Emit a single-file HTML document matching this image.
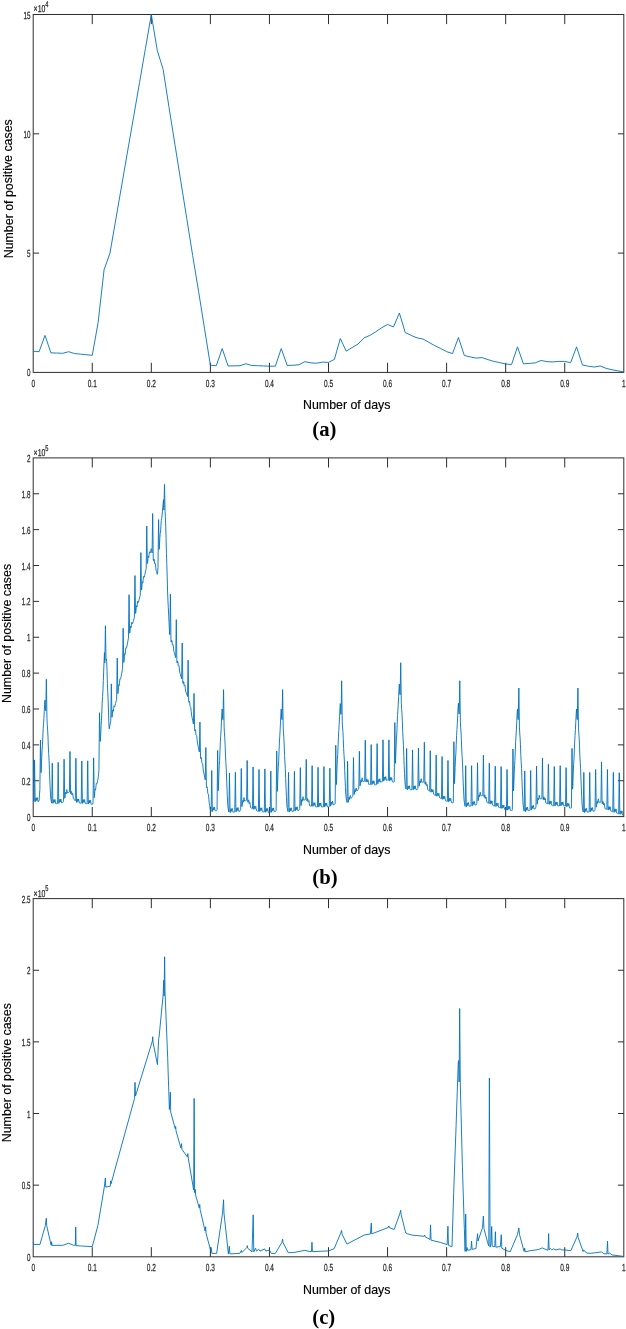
<!DOCTYPE html>
<html lang="en">
<head>
<meta charset="utf-8">
<title>Number of positive cases versus number of days</title>
<style>
html,body{margin:0;padding:0;background:#fff}
body{width:626px;height:1329px;overflow:hidden}
svg{display:block}
.tk text{text-rendering:geometricPrecision;font-family:"Liberation Sans",Arial,Helvetica,sans-serif;font-size:10.3px;fill:#262626;stroke:#262626;stroke-width:0.25px}
.lb{font-family:"Liberation Sans",Arial,Helvetica,sans-serif;font-size:12.4px;fill:#000;stroke:#000;stroke-width:0.15px}
.cap{font-family:"Liberation Serif","Times New Roman",serif;font-weight:bold;font-size:20.7px;fill:#000}
</style>
</head>
<body>
<svg width="626" height="1329" viewBox="0 0 626 1329">
<rect width="626" height="1329" fill="#fff"/>
<g>
<rect x="33.20" y="14.50" width="590.60" height="357.90" fill="none" stroke="#2e2e2e" stroke-width="1"/>
<path d="M92.26 372.40v-9.6M92.26 14.50v9.6M151.32 372.40v-9.6M151.32 14.50v9.6M210.38 372.40v-9.6M210.38 14.50v9.6M269.44 372.40v-9.6M269.44 14.50v9.6M328.50 372.40v-9.6M328.50 14.50v9.6M387.56 372.40v-9.6M387.56 14.50v9.6M446.62 372.40v-9.6M446.62 14.50v9.6M505.68 372.40v-9.6M505.68 14.50v9.6M564.74 372.40v-9.6M564.74 14.50v9.6M33.20 253.10h5.9M623.80 253.10h-5.9M33.20 133.80h5.9M623.80 133.80h-5.9" stroke="#2e2e2e" stroke-width="1" fill="none"/>
<g class="tk">
<text transform="translate(33.20 387.00) rotate(0.02) scale(0.63 1)" text-anchor="middle">0</text>
<text transform="translate(92.26 387.00) rotate(0.02) scale(0.63 1)" text-anchor="middle">0.1</text>
<text transform="translate(151.32 387.00) rotate(0.02) scale(0.63 1)" text-anchor="middle">0.2</text>
<text transform="translate(210.38 387.00) rotate(0.02) scale(0.63 1)" text-anchor="middle">0.3</text>
<text transform="translate(269.44 387.00) rotate(0.02) scale(0.63 1)" text-anchor="middle">0.4</text>
<text transform="translate(328.50 387.00) rotate(0.02) scale(0.63 1)" text-anchor="middle">0.5</text>
<text transform="translate(387.56 387.00) rotate(0.02) scale(0.63 1)" text-anchor="middle">0.6</text>
<text transform="translate(446.62 387.00) rotate(0.02) scale(0.63 1)" text-anchor="middle">0.7</text>
<text transform="translate(505.68 387.00) rotate(0.02) scale(0.63 1)" text-anchor="middle">0.8</text>
<text transform="translate(564.74 387.00) rotate(0.02) scale(0.63 1)" text-anchor="middle">0.9</text>
<text transform="translate(623.80 387.00) rotate(0.02) scale(0.63 1)" text-anchor="middle">1</text>
<text transform="translate(30.50 376.50) rotate(0.02) scale(0.61 1)" text-anchor="end">0</text>
<text transform="translate(30.50 257.20) rotate(0.02) scale(0.61 1)" text-anchor="end">5</text>
<text transform="translate(30.50 137.90) rotate(0.02) scale(0.61 1)" text-anchor="end">10</text>
<text transform="translate(30.50 18.60) rotate(0.02) scale(0.61 1)" text-anchor="end">15</text>
<text transform="translate(33.60 12.40) rotate(0.02) scale(0.69 1)"><tspan font-size="10">×10</tspan><tspan font-size="8.2" dy="-5.3">4</tspan></text>
</g>
<text class="lb" transform="translate(346.7 409.35) rotate(0.02)" text-anchor="middle">Number of days</text>
<text class="lb" transform="translate(12.50 188.75) rotate(-90.02)" text-anchor="middle">Number of positive cases</text>
<text class="cap" transform="translate(312.3 435.60) rotate(0.02)">(a)</text>
<path d="M33.20 351.21L39.11 351.71L45.01 335.42L50.92 352.83L56.82 353.07L62.73 353.31L68.64 351.71L74.54 353.55L80.45 354.15L86.35 354.74L92.26 355.32L98.17 322.29L104.07 269.80L109.98 253.10L115.88 218.98L121.79 184.86L127.70 150.74L133.60 116.86L139.51 82.74L145.41 48.62L151.32 14.50L157.23 50.29L163.13 69.38L169.04 107.55L174.94 144.54L180.85 181.52L186.76 218.50L192.66 255.49L198.57 291.28L204.47 328.26L210.38 365.24L216.29 365.72L222.19 348.54L228.10 365.96L234.00 365.84L239.91 365.72L245.82 363.81L251.72 365.48L257.63 365.72L263.53 365.96L269.44 366.20L275.35 366.20L281.25 348.54L287.16 365.48L293.06 365.24L298.97 364.76L304.88 361.66L310.78 362.86L316.69 363.21L322.59 362.14L328.50 362.38L334.41 359.40L340.31 338.52L346.22 351.16L352.12 347.59L358.03 344.01L363.94 337.92L369.84 335.42L375.75 331.84L381.65 327.78L387.56 324.44L393.47 326.95L399.37 312.99L405.28 332.55L411.18 335.42L417.09 337.92L423.00 339.00L428.90 342.34L434.81 345.68L440.71 348.54L446.62 351.64L452.53 353.55L458.43 337.56L464.34 355.46L470.24 356.89L476.15 358.08L482.06 357.61L487.96 359.63L493.87 361.42L499.77 362.62L505.68 364.05L511.59 364.53L517.49 346.87L523.40 363.81L529.30 363.45L535.21 362.86L541.12 360.47L547.02 361.66L552.93 361.90L558.83 361.42L564.74 361.42L570.65 362.62L576.55 346.87L582.46 365.00L588.36 366.20L594.27 367.03L600.18 365.96L606.08 368.34L611.99 369.78L617.89 370.85L623.80 371.92" fill="none" stroke="#0072BD" stroke-width="0.9" stroke-linejoin="round"/>
</g>
<g>
<rect x="33.20" y="457.90" width="590.60" height="358.70" fill="none" stroke="#2e2e2e" stroke-width="1"/>
<path d="M92.26 816.60v-9.6M92.26 457.90v9.6M151.32 816.60v-9.6M151.32 457.90v9.6M210.38 816.60v-9.6M210.38 457.90v9.6M269.44 816.60v-9.6M269.44 457.90v9.6M328.50 816.60v-9.6M328.50 457.90v9.6M387.56 816.60v-9.6M387.56 457.90v9.6M446.62 816.60v-9.6M446.62 457.90v9.6M505.68 816.60v-9.6M505.68 457.90v9.6M564.74 816.60v-9.6M564.74 457.90v9.6M33.20 780.73h5.9M623.80 780.73h-5.9M33.20 744.86h5.9M623.80 744.86h-5.9M33.20 708.99h5.9M623.80 708.99h-5.9M33.20 673.12h5.9M623.80 673.12h-5.9M33.20 637.25h5.9M623.80 637.25h-5.9M33.20 601.38h5.9M623.80 601.38h-5.9M33.20 565.51h5.9M623.80 565.51h-5.9M33.20 529.64h5.9M623.80 529.64h-5.9M33.20 493.77h5.9M623.80 493.77h-5.9" stroke="#2e2e2e" stroke-width="1" fill="none"/>
<g class="tk">
<text transform="translate(33.20 831.20) rotate(0.02) scale(0.63 1)" text-anchor="middle">0</text>
<text transform="translate(92.26 831.20) rotate(0.02) scale(0.63 1)" text-anchor="middle">0.1</text>
<text transform="translate(151.32 831.20) rotate(0.02) scale(0.63 1)" text-anchor="middle">0.2</text>
<text transform="translate(210.38 831.20) rotate(0.02) scale(0.63 1)" text-anchor="middle">0.3</text>
<text transform="translate(269.44 831.20) rotate(0.02) scale(0.63 1)" text-anchor="middle">0.4</text>
<text transform="translate(328.50 831.20) rotate(0.02) scale(0.63 1)" text-anchor="middle">0.5</text>
<text transform="translate(387.56 831.20) rotate(0.02) scale(0.63 1)" text-anchor="middle">0.6</text>
<text transform="translate(446.62 831.20) rotate(0.02) scale(0.63 1)" text-anchor="middle">0.7</text>
<text transform="translate(505.68 831.20) rotate(0.02) scale(0.63 1)" text-anchor="middle">0.8</text>
<text transform="translate(564.74 831.20) rotate(0.02) scale(0.63 1)" text-anchor="middle">0.9</text>
<text transform="translate(623.80 831.20) rotate(0.02) scale(0.63 1)" text-anchor="middle">1</text>
<text transform="translate(30.50 820.70) rotate(0.02) scale(0.61 1)" text-anchor="end">0</text>
<text transform="translate(30.50 784.83) rotate(0.02) scale(0.61 1)" text-anchor="end">0.2</text>
<text transform="translate(30.50 748.96) rotate(0.02) scale(0.61 1)" text-anchor="end">0.4</text>
<text transform="translate(30.50 713.09) rotate(0.02) scale(0.61 1)" text-anchor="end">0.6</text>
<text transform="translate(30.50 677.22) rotate(0.02) scale(0.61 1)" text-anchor="end">0.8</text>
<text transform="translate(30.50 641.35) rotate(0.02) scale(0.61 1)" text-anchor="end">1</text>
<text transform="translate(30.50 605.48) rotate(0.02) scale(0.61 1)" text-anchor="end">1.2</text>
<text transform="translate(30.50 569.61) rotate(0.02) scale(0.61 1)" text-anchor="end">1.4</text>
<text transform="translate(30.50 533.74) rotate(0.02) scale(0.61 1)" text-anchor="end">1.6</text>
<text transform="translate(30.50 497.87) rotate(0.02) scale(0.61 1)" text-anchor="end">1.8</text>
<text transform="translate(30.50 462.00) rotate(0.02) scale(0.61 1)" text-anchor="end">2</text>
<text transform="translate(33.60 455.80) rotate(0.02) scale(0.69 1)"><tspan font-size="10">×10</tspan><tspan font-size="8.2" dy="-5.3">5</tspan></text>
</g>
<text class="lb" transform="translate(346.7 853.55) rotate(0.02)" text-anchor="middle">Number of days</text>
<text class="lb" transform="translate(10.90 633.45) rotate(-90.02)" text-anchor="middle">Number of positive cases</text>
<text class="cap" transform="translate(312.3 883.70) rotate(0.02)">(b)</text>
<path d="M33.55 759.93L33.94 801.53L33.97 801.53L34.56 759.93L35.15 801.53L35.41 801.53L35.78 798.44L36.15 797.78L36.52 800.46L36.89 798.97L37.26 797.62L37.63 799.74L38.00 801.53L38.37 801.53L38.74 801.53L39.11 799.93L39.48 794.90L39.84 789.85L39.87 789.43L40.46 740.02L41.05 772.73L41.32 767.94L41.69 757.78L42.06 750.06L42.43 745.67L42.80 737.11L43.17 728.69L43.54 723.75L43.90 718.48L44.27 711.41L44.64 704.34L45.01 700.20L45.38 709.44L45.75 710.78L45.78 710.89L46.37 679.22L46.96 718.38L47.23 724.13L47.60 729.01L47.97 736.34L48.33 747.00L48.70 753.49L49.07 760.12L49.44 770.23L49.81 780.00L50.18 787.98L50.55 795.96L50.92 799.19L51.29 801.24L51.66 803.12L51.69 803.12L52.28 763.15L52.87 803.25L53.13 803.28L53.50 800.22L53.87 799.61L54.24 802.33L54.61 800.88L54.98 799.57L55.35 801.73L55.72 803.57L56.09 803.61L56.45 803.65L56.82 803.69L57.19 803.62L57.56 803.55L57.59 803.55L58.18 762.33L58.77 803.33L59.04 803.28L59.41 800.12L59.78 799.40L60.15 802.01L60.52 800.45L60.88 799.03L61.25 801.09L61.62 802.81L61.99 802.75L62.36 802.68L62.73 802.61L63.10 801.78L63.47 800.95L63.50 800.88L64.09 759.21L64.68 798.21L64.94 797.61L65.31 793.68L65.68 792.20L66.05 794.05L66.42 791.72L66.79 789.53L67.16 791.35L67.53 792.96L67.90 792.78L68.27 792.60L68.64 792.42L69.01 792.24L69.37 792.06L69.40 792.05L69.99 751.50L70.58 793.33L70.85 793.84L71.22 791.45L71.59 791.50L71.96 794.90L72.33 794.11L72.70 793.47L73.07 796.31L73.43 798.75L73.80 799.16L74.17 799.57L74.54 799.98L74.91 800.39L75.28 800.80L75.31 800.84L75.90 758.31L76.49 802.15L76.76 802.45L77.13 799.55L77.50 798.95L77.86 801.69L78.23 800.25L78.60 798.95L78.97 801.13L79.34 802.98L79.71 803.04L80.08 803.09L80.45 803.15L80.82 803.18L81.19 803.22L81.22 803.22L81.81 761.00L82.40 803.33L82.66 803.35L83.03 800.29L83.40 799.67L83.77 802.38L84.14 800.92L84.51 799.60L84.88 801.76L85.25 803.59L85.62 803.62L85.98 803.65L86.35 803.69L86.72 803.73L87.09 803.77L87.12 803.78L87.71 760.82L88.30 803.91L88.57 803.94L88.94 800.89L89.31 800.28L89.68 803.00L90.05 801.55L90.41 800.24L90.78 802.41L91.15 804.24L91.52 804.28L91.89 804.33L92.26 804.37L92.63 804.12L93.00 802.68L93.03 802.57L93.62 757.86L94.21 797.78L94.47 796.45L94.84 791.51L95.21 789.01L95.58 789.85L95.95 786.51L96.32 783.31L96.69 783.60L97.06 783.55L97.43 781.70L97.80 779.86L98.17 777.82L98.54 774.76L98.90 770.85L98.93 769.75L99.52 712.76L100.11 741.27L100.38 741.27L100.75 733.57L101.12 725.23L101.49 720.24L101.86 711.07L102.23 702.03L102.60 696.48L102.96 690.21L103.33 680.59L103.70 670.98L104.07 661.37L104.44 652.58L104.81 662.82L104.84 662.75L105.43 625.77L106.02 659.80L106.29 659.14L106.66 661.58L107.02 670.76L107.39 683.28L107.76 691.63L108.13 700.11L108.50 712.08L108.87 723.71L109.24 728.83L109.61 726.87L109.98 724.91L110.35 723.07L110.72 721.73L110.75 721.62L111.34 683.88L111.93 717.34L112.19 716.37L112.56 711.93L112.93 709.94L113.30 711.28L113.67 708.45L114.04 705.75L114.41 706.40L114.78 706.71L115.15 705.22L115.51 703.74L115.88 702.26L116.25 700.77L116.62 699.29L116.65 699.17L117.24 658.05L117.83 693.72L118.10 692.34L118.47 687.32L118.84 684.74L119.21 685.50L119.58 682.09L119.94 678.78L120.31 678.94L120.68 678.76L121.05 676.78L121.42 674.81L121.79 672.84L122.16 670.87L122.53 668.90L122.56 668.74L123.15 628.28L123.74 662.54L124.00 661.17L124.37 656.16L124.74 653.60L125.11 654.38L125.48 650.98L125.85 647.72L126.22 647.94L126.59 647.83L126.96 645.92L127.33 644.02L127.70 642.11L128.07 640.20L128.43 638.30L128.46 638.15L129.05 594.74L129.64 633.16L129.91 632.29L130.28 627.98L130.65 626.12L131.02 627.59L131.39 624.88L131.76 622.32L132.13 623.23L132.49 623.81L132.86 622.60L133.23 621.39L133.60 620.18L133.97 618.97L134.34 617.76L134.37 617.66L134.96 575.55L135.55 613.43L135.82 612.40L136.19 607.87L136.55 605.78L136.92 607.02L137.29 604.10L137.66 601.31L138.03 602.00L138.40 602.36L138.77 600.92L139.14 599.49L139.51 598.05L139.88 596.62L140.25 595.18L140.28 595.07L140.87 552.60L141.46 590.08L141.72 588.87L142.09 584.09L142.46 581.75L142.83 582.76L143.20 579.58L143.57 576.54L143.94 576.99L144.31 577.10L144.68 575.42L145.04 573.74L145.41 572.06L145.78 570.37L146.15 568.69L146.18 568.56L146.77 526.05L147.36 563.63L147.63 562.63L148.00 558.13L148.37 556.08L148.74 557.36L149.11 554.47L149.47 551.72L149.84 552.45L150.21 552.84L150.58 551.45L150.95 550.05L151.32 548.65L151.69 550.70L152.06 552.75L152.09 552.91L152.68 513.50L153.27 559.47L153.53 560.68L153.90 558.94L154.27 559.65L154.64 563.70L155.01 563.57L155.38 563.58L155.75 567.07L156.12 570.23L156.49 571.59L156.86 572.96L157.23 574.32L157.60 573.19L157.96 567.62L157.99 567.18L158.58 519.60L159.17 549.36L159.44 545.87L159.81 538.51L160.18 533.59L160.55 532.01L160.92 526.26L161.29 520.64L161.66 518.50L162.02 516.03L162.39 511.77L162.76 507.51L163.13 503.24L163.50 499.60L163.87 509.95L163.90 509.99L164.49 484.44L165.08 511.55L165.35 516.77L165.72 526.34L166.08 538.35L166.45 553.70L166.82 564.88L167.19 576.19L167.56 590.98L167.93 600.19L168.30 607.61L168.67 615.03L169.04 622.44L169.41 629.86L169.78 634.60L169.81 634.82L170.40 594.21L170.99 641.12L171.25 642.06L171.62 640.26L171.99 640.91L172.36 644.89L172.73 644.70L173.10 644.64L173.47 648.07L173.84 651.16L174.21 652.46L174.57 653.76L174.94 655.06L175.31 656.36L175.68 657.66L175.71 657.77L176.30 619.67L176.89 661.96L177.16 662.92L177.53 661.14L177.90 661.81L178.27 665.81L178.64 665.65L179.00 665.61L179.37 669.06L179.74 672.18L180.11 673.50L180.48 674.82L180.85 676.14L181.22 677.47L181.59 678.79L181.62 678.90L182.21 642.99L182.80 682.73L183.06 683.51L183.43 681.49L183.80 681.91L184.17 685.67L184.54 685.25L184.91 684.97L185.28 688.17L185.65 691.04L186.02 692.12L186.39 693.19L186.76 694.27L187.13 695.35L187.49 696.42L187.52 696.51L188.11 660.21L188.70 701.10L188.97 702.39L189.34 701.08L189.71 702.22L190.08 706.70L190.45 707.00L190.82 707.44L191.19 711.36L191.55 714.94L191.92 716.74L192.29 718.53L192.66 720.32L193.03 722.12L193.40 723.91L193.43 724.06L194.02 693.39L194.61 729.70L194.88 730.96L195.25 729.59L195.62 730.68L195.98 735.10L196.35 735.34L196.72 735.72L197.09 739.59L197.46 743.12L197.83 744.86L198.20 746.59L198.57 748.33L198.94 750.07L199.31 751.81L199.34 751.94L199.93 722.08L200.52 757.50L200.78 758.76L201.15 757.39L201.52 758.48L201.89 762.90L202.26 763.14L202.63 763.52L203.00 767.39L203.37 770.92L203.74 772.65L204.10 774.39L204.47 776.13L204.84 777.87L205.21 779.60L205.24 779.74L205.83 747.55L206.42 786.09L206.69 787.69L207.06 786.82L207.43 788.40L207.80 793.31L208.17 794.04L208.53 794.92L208.90 799.27L209.27 803.29L209.64 805.52L210.01 807.75L210.38 809.97L210.75 811.74L211.12 811.66L211.15 811.65L211.74 770.51L212.33 811.39L212.59 811.33L212.96 808.15L213.33 807.42L213.70 810.02L214.07 808.45L214.44 807.01L214.81 809.05L215.18 810.76L215.55 810.68L215.92 810.60L216.29 810.52L216.66 810.44L217.02 809.89L217.05 809.42L217.64 750.42L218.23 790.67L218.50 785.28L218.87 774.25L219.24 765.66L219.61 760.41L219.98 750.98L220.35 741.69L220.72 735.88L221.08 729.73L221.45 721.80L221.82 713.86L222.19 708.99L222.56 718.23L222.93 719.57L222.96 719.68L223.55 689.62L224.14 727.17L224.41 732.92L224.78 737.81L225.14 745.14L225.51 755.80L225.88 762.29L226.25 768.92L226.62 779.04L226.99 788.81L227.36 796.80L227.73 804.78L228.10 808.01L228.47 810.06L228.84 811.96L228.87 811.99L229.46 773.02L230.05 812.59L230.31 812.55L230.68 809.40L231.05 808.70L231.42 811.33L231.79 809.78L232.16 808.38L232.53 810.45L232.90 812.19L233.27 812.14L233.63 812.09L234.00 812.04L234.37 811.99L234.74 811.94L234.77 811.93L235.36 772.30L235.95 811.77L236.22 811.73L236.59 808.58L236.96 807.88L237.33 810.51L237.70 808.96L238.06 807.56L238.43 809.63L238.80 811.37L239.17 811.32L239.54 811.27L239.91 811.22L240.28 810.34L240.65 809.46L240.68 809.39L241.27 768.53L241.86 806.57L242.12 805.94L242.49 801.96L242.86 800.42L243.23 802.22L243.60 799.85L243.97 797.61L244.34 799.44L244.71 801.07L245.08 800.92L245.45 800.76L245.82 800.60L246.19 800.45L246.55 800.29L246.58 800.28L247.17 760.46L247.76 801.73L248.03 802.30L248.40 799.98L248.77 800.11L249.14 803.58L249.51 802.87L249.88 802.30L250.25 805.21L250.61 807.67L250.98 807.86L251.35 808.04L251.72 808.23L252.09 808.42L252.46 808.60L252.49 808.62L253.08 767.01L253.67 809.22L253.94 809.35L254.31 806.44L254.67 805.97L255.04 808.84L255.41 807.54L255.78 806.37L256.15 808.68L256.52 810.66L256.89 810.85L257.26 811.03L257.63 811.22L258.00 811.26L258.37 811.31L258.40 811.31L258.99 769.50L259.58 811.46L259.84 811.49L260.21 808.43L260.58 807.83L260.95 810.55L261.32 809.11L261.69 807.79L262.06 809.97L262.43 811.80L262.80 811.85L263.16 811.89L263.53 811.94L263.90 811.98L264.27 812.03L264.30 812.03L264.89 768.89L265.48 812.17L265.75 812.21L266.12 809.15L266.49 808.54L266.86 811.27L267.23 809.82L267.59 808.51L267.96 810.68L268.33 812.52L268.70 812.56L269.07 812.61L269.44 812.65L269.81 812.58L270.18 812.50L270.21 812.49L270.80 771.05L271.39 812.24L271.65 812.19L272.02 809.01L272.39 808.28L272.76 810.88L273.13 809.31L273.50 807.88L273.87 809.93L274.24 811.64L274.61 811.56L274.98 811.48L275.35 811.41L275.72 811.33L276.08 810.78L276.11 810.31L276.70 750.96L277.29 791.39L277.56 785.96L277.93 774.86L278.30 766.20L278.67 760.88L279.04 751.38L279.41 742.02L279.78 736.14L280.14 729.93L280.51 721.93L280.88 713.92L281.25 708.99L281.62 718.23L281.99 719.57L282.02 719.68L282.61 689.62L283.20 727.15L283.47 732.86L283.84 737.69L284.20 744.97L284.57 755.58L284.94 762.03L285.31 768.60L285.68 778.66L286.05 788.39L286.42 796.32L286.79 804.25L287.16 807.47L287.53 809.52L287.90 811.43L287.93 811.45L288.52 772.37L289.11 812.03L289.37 811.99L289.74 808.83L290.11 808.11L290.48 810.72L290.85 809.17L291.22 807.75L291.59 809.81L291.96 811.54L292.33 811.48L292.69 811.41L293.06 811.35L293.43 811.28L293.80 811.22L293.83 811.21L294.42 771.40L295.01 811.01L295.28 810.96L295.65 807.80L296.02 807.08L296.39 809.70L296.76 808.14L297.12 806.72L297.49 808.79L297.86 810.51L298.23 810.45L298.60 810.39L298.97 810.32L299.34 809.44L299.71 808.56L299.74 808.49L300.33 767.64L300.92 805.67L301.18 805.04L301.55 801.06L301.92 799.52L302.29 801.33L302.66 798.95L303.03 796.72L303.40 798.54L303.77 800.18L304.14 800.02L304.51 799.86L304.88 799.71L305.25 799.55L305.61 799.39L305.64 799.38L306.23 759.39L306.82 800.64L307.09 801.14L307.46 798.73L307.83 798.77L308.20 802.14L308.57 801.34L308.94 800.68L309.31 803.49L309.67 805.85L310.04 805.91L310.41 805.96L310.78 806.02L311.15 806.07L311.52 806.13L311.55 806.13L312.14 765.66L312.73 806.31L313.00 806.35L313.37 803.31L313.73 802.71L314.10 805.45L314.47 804.02L314.84 802.72L315.21 804.90L315.58 806.75L315.95 806.80L316.32 806.86L316.69 806.92L317.06 806.92L317.43 806.92L317.46 806.92L318.05 767.28L318.64 806.92L318.90 806.92L319.27 803.82L319.64 803.16L320.01 805.84L320.38 804.35L320.75 803.00L321.12 805.12L321.49 806.92L321.86 806.92L322.22 806.92L322.59 806.92L322.96 806.92L323.33 806.92L323.36 806.92L323.95 766.56L324.54 806.92L324.81 806.92L325.18 803.82L325.55 803.16L325.92 805.84L326.29 804.35L326.65 803.00L327.02 805.12L327.39 806.92L327.76 806.92L328.13 806.92L328.50 806.92L328.87 806.76L329.24 806.60L329.27 806.59L329.86 768.18L330.45 806.09L330.71 805.98L331.08 802.72L331.45 801.91L331.82 804.44L332.19 802.79L332.56 801.28L332.93 803.25L333.30 804.89L333.67 804.73L334.04 804.58L334.41 804.42L334.78 804.26L335.14 803.66L335.17 803.19L335.76 745.22L336.35 784.59L336.62 779.25L336.99 768.28L337.36 759.76L337.73 754.57L338.10 745.21L338.47 735.99L338.84 730.24L339.20 724.17L339.57 716.30L339.94 708.43L340.31 703.61L340.68 712.85L341.05 714.19L341.08 714.30L341.67 680.74L342.26 721.59L342.53 727.05L342.90 731.53L343.26 738.45L343.63 748.71L344.00 754.80L344.37 761.02L344.74 770.72L345.11 780.09L345.48 787.67L345.85 795.25L346.22 798.40L346.59 800.44L346.96 802.35L346.99 802.38L347.58 761.25L348.17 802.38L348.43 802.01L348.80 798.40L349.17 797.23L349.54 799.40L349.91 797.39L350.28 795.52L350.65 797.14L351.02 798.41L351.39 797.90L351.75 797.39L352.12 796.87L352.49 796.42L352.86 795.97L352.89 795.94L353.48 757.59L354.07 794.50L354.34 794.18L354.71 790.63L355.08 789.53L355.45 791.77L355.82 789.83L356.18 788.02L356.55 789.70L356.92 791.04L357.29 790.59L357.66 790.15L358.03 789.70L358.40 788.98L358.77 788.26L358.80 788.20L359.39 751.32L359.98 785.89L360.24 785.37L360.61 781.55L360.98 780.18L361.35 782.14L361.72 779.93L362.09 777.85L362.46 779.78L362.83 781.51L363.20 781.45L363.57 781.39L363.94 781.32L364.31 781.26L364.67 781.20L364.70 781.19L365.29 740.20L365.88 781.66L366.15 781.91L366.52 779.17L366.89 778.87L367.26 781.90L367.63 780.76L368.00 779.76L368.37 782.24L368.73 784.32L369.10 784.35L369.47 784.38L369.84 784.41L370.21 784.43L370.58 784.46L370.61 784.46L371.20 744.59L371.79 784.55L372.06 784.57L372.43 781.50L372.79 780.88L373.16 783.59L373.53 782.12L373.90 780.80L374.27 782.95L374.64 784.77L375.01 784.80L375.38 784.83L375.75 784.86L376.12 784.65L376.49 784.45L376.52 784.44L377.11 743.60L377.70 783.79L377.96 783.64L378.33 780.34L378.70 779.49L379.07 781.97L379.44 780.27L379.81 778.72L380.18 780.64L380.55 782.23L380.92 782.03L381.28 781.83L381.65 781.63L382.02 781.53L382.39 781.42L382.42 781.42L383.01 739.84L383.60 781.09L383.87 781.02L384.24 777.82L384.61 777.07L384.98 779.65L385.35 778.06L385.71 776.60L386.08 778.62L386.45 780.32L386.82 780.21L387.19 780.11L387.56 780.01L387.93 780.15L388.30 780.29L388.33 780.30L388.92 739.84L389.51 780.73L389.77 780.83L390.14 777.87L390.51 777.35L390.88 780.17L391.25 778.81L391.62 777.60L391.99 779.86L392.36 781.79L392.73 781.92L393.10 782.06L393.47 782.20L393.84 782.33L394.20 782.00L394.23 781.55L394.82 722.53L395.41 763.33L395.68 758.10L396.05 747.30L396.42 738.94L396.79 733.91L397.16 724.71L397.53 715.65L397.90 710.07L398.26 704.15L398.63 696.45L399.00 688.74L399.37 684.06L399.74 693.30L400.11 694.64L400.14 694.75L400.73 662.72L401.32 702.33L401.59 708.22L401.96 713.29L402.32 720.81L402.69 731.67L403.06 738.35L403.43 745.17L403.80 755.47L404.17 765.44L404.54 773.61L404.91 781.79L405.28 785.06L405.65 787.10L406.02 789.01L406.05 789.04L406.64 748.45L407.23 789.70L407.49 789.70L407.86 786.60L408.23 785.94L408.60 788.63L408.97 787.13L409.34 785.78L409.71 787.91L410.08 789.70L410.45 789.70L410.81 789.70L411.18 789.70L411.55 789.70L411.92 789.70L411.95 789.70L412.54 749.95L413.13 789.70L413.40 789.70L413.77 786.60L414.14 785.94L414.51 788.63L414.88 787.13L415.24 785.78L415.61 787.91L415.98 789.70L416.35 789.70L416.72 789.70L417.09 789.70L417.46 789.06L417.83 788.42L417.86 788.37L418.45 748.09L419.04 786.32L419.30 785.85L419.67 782.12L420.04 780.82L420.41 782.86L420.78 780.73L421.15 778.73L421.52 780.68L421.89 782.40L422.26 782.34L422.63 782.27L423.00 782.20L423.37 782.13L423.73 782.07L423.76 782.06L424.35 742.35L424.94 783.66L425.21 784.23L425.58 781.94L425.95 782.09L426.32 785.57L426.69 784.89L427.06 784.33L427.43 787.26L427.79 789.75L428.16 790.03L428.53 790.31L428.90 790.59L429.27 790.87L429.64 791.15L429.67 791.18L430.26 750.78L430.85 792.07L431.12 792.28L431.49 789.46L431.85 789.08L432.22 792.05L432.59 790.83L432.96 789.76L433.33 792.17L433.70 794.24L434.07 794.52L434.44 794.80L434.81 795.08L435.18 795.28L435.55 795.48L435.58 795.50L436.17 755.08L436.76 796.14L437.02 796.29L437.39 793.39L437.76 792.94L438.13 795.82L438.50 794.53L438.87 793.38L439.24 795.71L439.61 797.70L439.98 797.90L440.34 798.10L440.71 798.31L441.08 798.49L441.45 798.67L441.48 798.68L442.07 756.52L442.66 799.25L442.93 799.38L443.30 796.46L443.67 795.99L444.04 798.85L444.41 797.54L444.77 796.36L445.14 798.67L445.51 800.64L445.88 800.82L446.25 801.00L446.62 801.18L446.99 801.28L447.36 801.38L447.39 801.39L447.98 760.46L448.57 801.71L448.83 801.78L449.20 798.79L449.57 798.23L449.94 801.02L450.31 799.63L450.68 798.37L451.05 800.60L451.42 802.49L451.79 802.60L452.16 802.70L452.53 802.80L452.90 802.90L453.26 802.53L453.29 802.07L453.88 741.70L454.47 783.61L454.74 778.31L455.11 767.40L455.48 758.94L455.85 753.81L456.22 744.51L456.59 735.34L456.96 729.66L457.32 723.64L457.69 715.83L458.06 708.02L458.43 703.25L458.80 712.49L459.17 713.83L459.20 713.94L459.79 680.74L460.38 721.43L460.65 727.18L461.02 732.07L461.38 739.40L461.75 750.06L462.12 756.56L462.49 763.18L462.86 773.30L463.23 783.07L463.60 791.06L463.97 799.04L464.34 802.27L464.71 804.32L465.08 806.23L465.11 806.25L465.70 765.66L466.29 806.82L466.55 806.77L466.92 803.61L467.29 802.88L467.66 805.49L468.03 803.93L468.40 802.50L468.77 804.56L469.14 806.28L469.51 806.21L469.87 806.14L470.24 806.07L470.61 806.00L470.98 805.93L471.01 805.92L471.60 765.66L472.19 805.70L472.46 805.65L472.83 802.48L473.20 801.75L473.57 804.36L473.94 802.80L474.30 801.38L474.67 803.43L475.04 805.15L475.41 805.08L475.78 805.01L476.15 804.94L476.52 804.14L476.89 803.34L476.92 803.28L477.51 762.80L478.10 800.71L478.36 800.14L478.73 796.24L479.10 794.78L479.47 796.67L479.84 794.37L480.21 792.22L480.58 794.13L480.95 795.85L481.32 795.79L481.69 795.72L482.06 795.65L482.43 795.58L482.79 795.52L482.82 795.51L483.41 755.08L484.00 796.91L484.27 797.42L484.64 795.04L485.01 795.09L485.38 798.48L485.75 797.70L486.12 797.06L486.49 799.89L486.85 802.29L487.22 802.48L487.59 802.66L487.96 802.85L488.33 803.04L488.70 803.22L488.73 803.24L489.32 763.15L489.91 803.84L490.18 803.97L490.55 801.06L490.91 800.59L491.28 803.46L491.65 802.16L492.02 800.99L492.39 803.30L492.76 805.28L493.13 805.47L493.50 805.65L493.87 805.84L494.24 805.95L494.61 806.06L494.64 806.07L495.23 766.20L495.82 806.43L496.08 806.51L496.45 803.53L496.82 802.98L497.19 805.78L497.56 804.40L497.93 803.15L498.30 805.39L498.67 807.30L499.04 807.41L499.40 807.52L499.77 807.63L500.14 807.77L500.51 807.90L500.54 807.91L501.13 766.56L501.72 808.34L501.99 808.44L502.36 805.48L502.73 804.96L503.10 807.77L503.47 806.42L503.83 805.19L504.20 807.46L504.57 809.38L504.94 809.52L505.31 809.65L505.68 809.78L506.05 809.83L506.42 809.88L506.45 809.89L507.04 769.50L507.63 810.04L507.89 810.08L508.26 807.03L508.63 806.42L509.00 809.15L509.37 807.71L509.74 806.40L510.11 808.58L510.48 810.42L510.85 810.47L511.22 810.52L511.59 810.56L511.96 810.61L512.32 810.19L512.35 809.72L512.94 748.99L513.53 790.91L513.80 785.51L514.17 774.45L514.54 765.84L514.91 760.56L515.28 751.11L515.65 741.80L516.02 735.97L516.38 729.80L516.75 721.84L517.12 713.88L517.49 708.99L517.86 718.23L518.23 719.57L518.26 719.68L518.85 688.01L519.44 727.13L519.71 732.82L520.08 737.62L520.44 744.86L520.81 755.44L521.18 761.85L521.55 768.39L521.92 778.41L522.29 788.10L522.66 796.00L523.03 803.90L523.40 807.12L523.77 809.16L524.14 811.07L524.17 811.10L524.76 771.05L525.35 811.62L525.61 811.55L525.98 808.34L526.35 807.58L526.72 810.16L527.09 808.56L527.46 807.10L527.83 809.12L528.20 810.81L528.57 810.70L528.93 810.59L529.30 810.49L529.67 810.38L530.04 810.28L530.07 810.27L530.66 770.51L531.25 809.93L531.52 809.86L531.89 806.65L532.26 805.89L532.63 808.47L533.00 806.87L533.36 805.41L533.73 807.43L534.10 809.12L534.47 809.01L534.84 808.90L535.21 808.80L535.58 807.93L535.95 807.05L535.98 806.98L536.57 766.02L537.16 804.19L537.42 803.56L537.79 799.59L538.16 798.06L538.53 799.87L538.90 797.51L539.27 795.28L539.64 797.16L540.01 798.86L540.38 798.77L540.75 798.68L541.12 798.59L541.49 798.50L541.85 798.41L541.88 798.41L542.47 757.95L543.06 799.33L543.33 799.69L543.70 797.08L544.07 796.92L544.44 800.10L544.81 799.10L545.18 798.24L545.55 800.86L545.91 803.07L546.28 803.22L546.65 803.36L547.02 803.51L547.39 803.65L547.76 803.80L547.79 803.81L548.38 764.32L548.97 804.28L549.24 804.38L549.61 801.43L549.97 800.92L550.34 803.75L550.71 802.40L551.08 801.19L551.45 803.46L551.82 805.40L552.19 805.55L552.56 805.69L552.93 805.84L553.30 805.84L553.67 805.84L553.70 805.84L554.29 766.56L554.88 805.84L555.14 805.84L555.51 802.74L555.88 802.09L556.25 804.77L556.62 803.28L556.99 801.92L557.36 804.05L557.73 805.84L558.10 805.84L558.46 805.84L558.83 805.84L559.20 805.84L559.57 805.84L559.60 805.84L560.19 765.66L560.78 805.84L561.05 805.84L561.42 802.74L561.79 802.09L562.16 804.77L562.53 803.28L562.89 801.92L563.26 804.05L563.63 805.84L564.00 805.84L564.37 805.84L564.74 805.84L565.11 805.99L565.48 806.13L565.51 806.14L566.10 767.64L566.69 806.61L566.95 806.72L567.32 803.76L567.69 803.26L568.06 806.08L568.43 804.74L568.80 803.53L569.17 805.80L569.54 807.74L569.91 807.89L570.28 808.03L570.65 808.18L571.02 808.32L571.38 808.00L571.41 807.54L572.00 748.45L572.59 789.13L572.86 783.84L573.23 772.96L573.60 764.51L573.97 759.41L574.34 750.12L574.71 740.98L575.08 735.32L575.44 729.32L575.81 721.53L576.18 713.74L576.55 708.99L576.92 718.23L577.29 719.57L577.32 719.68L577.91 688.01L578.50 727.17L578.77 732.92L579.14 737.81L579.50 745.14L579.87 755.80L580.24 762.29L580.61 768.92L580.98 779.04L581.35 788.81L581.72 796.80L582.09 804.78L582.46 808.01L582.83 810.06L583.20 811.96L583.23 811.99L583.82 772.37L584.41 812.59L584.67 812.55L585.04 809.40L585.41 808.70L585.78 811.33L586.15 809.78L586.52 808.38L586.89 810.45L587.26 812.19L587.63 812.14L587.99 812.09L588.36 812.04L588.73 811.99L589.10 811.94L589.13 811.93L589.72 772.37L590.31 811.77L590.58 811.73L590.95 808.58L591.32 807.88L591.69 810.51L592.06 808.96L592.42 807.56L592.79 809.63L593.16 811.37L593.53 811.32L593.90 811.27L594.27 811.22L594.64 810.45L595.01 809.68L595.04 809.62L595.63 769.50L596.22 807.16L596.48 806.61L596.85 802.74L597.22 801.32L597.59 803.23L597.96 800.97L598.33 798.85L598.70 800.77L599.07 802.49L599.44 802.42L599.81 802.36L600.18 802.29L600.55 802.22L600.91 802.15L600.94 802.15L601.53 761.90L602.12 803.47L602.39 803.96L602.76 801.53L603.13 801.55L603.50 804.90L603.87 804.08L604.24 803.40L604.61 806.20L604.97 808.56L605.34 808.72L605.71 808.88L606.08 809.04L606.45 809.20L606.82 809.36L606.85 809.37L607.44 769.50L608.03 809.88L608.30 809.99L608.67 807.05L609.03 806.56L609.40 809.40L609.77 808.06L610.14 806.87L610.51 809.15L610.88 811.10L611.25 811.26L611.62 811.42L611.99 811.58L612.36 811.70L612.73 811.82L612.76 811.83L613.35 772.37L613.94 812.23L614.20 812.32L614.57 809.34L614.94 808.81L615.31 811.62L615.68 810.25L616.05 809.02L616.42 811.27L616.79 813.18L617.16 813.30L617.52 813.43L617.89 813.55L618.26 813.67L618.63 813.80L618.66 813.81L619.25 772.75L619.84 814.20L620.11 814.29L620.48 811.32L620.85 810.78L621.22 813.59L621.59 812.22L621.95 810.99L622.32 813.24L622.69 815.15L623.06 815.28L623.43 815.40L623.80 815.52" fill="none" stroke="#0072BD" stroke-width="0.9" stroke-linejoin="round"/>
</g>
<g>
<rect x="33.20" y="898.60" width="590.60" height="358.20" fill="none" stroke="#2e2e2e" stroke-width="1"/>
<path d="M92.26 1256.80v-9.6M92.26 898.60v9.6M151.32 1256.80v-9.6M151.32 898.60v9.6M210.38 1256.80v-9.6M210.38 898.60v9.6M269.44 1256.80v-9.6M269.44 898.60v9.6M328.50 1256.80v-9.6M328.50 898.60v9.6M387.56 1256.80v-9.6M387.56 898.60v9.6M446.62 1256.80v-9.6M446.62 898.60v9.6M505.68 1256.80v-9.6M505.68 898.60v9.6M564.74 1256.80v-9.6M564.74 898.60v9.6M33.20 1185.16h5.9M623.80 1185.16h-5.9M33.20 1113.52h5.9M623.80 1113.52h-5.9M33.20 1041.88h5.9M623.80 1041.88h-5.9M33.20 970.24h5.9M623.80 970.24h-5.9" stroke="#2e2e2e" stroke-width="1" fill="none"/>
<g class="tk">
<text transform="translate(33.20 1271.40) rotate(0.02) scale(0.63 1)" text-anchor="middle">0</text>
<text transform="translate(92.26 1271.40) rotate(0.02) scale(0.63 1)" text-anchor="middle">0.1</text>
<text transform="translate(151.32 1271.40) rotate(0.02) scale(0.63 1)" text-anchor="middle">0.2</text>
<text transform="translate(210.38 1271.40) rotate(0.02) scale(0.63 1)" text-anchor="middle">0.3</text>
<text transform="translate(269.44 1271.40) rotate(0.02) scale(0.63 1)" text-anchor="middle">0.4</text>
<text transform="translate(328.50 1271.40) rotate(0.02) scale(0.63 1)" text-anchor="middle">0.5</text>
<text transform="translate(387.56 1271.40) rotate(0.02) scale(0.63 1)" text-anchor="middle">0.6</text>
<text transform="translate(446.62 1271.40) rotate(0.02) scale(0.63 1)" text-anchor="middle">0.7</text>
<text transform="translate(505.68 1271.40) rotate(0.02) scale(0.63 1)" text-anchor="middle">0.8</text>
<text transform="translate(564.74 1271.40) rotate(0.02) scale(0.63 1)" text-anchor="middle">0.9</text>
<text transform="translate(623.80 1271.40) rotate(0.02) scale(0.63 1)" text-anchor="middle">1</text>
<text transform="translate(30.50 1260.90) rotate(0.02) scale(0.61 1)" text-anchor="end">0</text>
<text transform="translate(30.50 1189.26) rotate(0.02) scale(0.61 1)" text-anchor="end">0.5</text>
<text transform="translate(30.50 1117.62) rotate(0.02) scale(0.61 1)" text-anchor="end">1</text>
<text transform="translate(30.50 1045.98) rotate(0.02) scale(0.61 1)" text-anchor="end">1.5</text>
<text transform="translate(30.50 974.34) rotate(0.02) scale(0.61 1)" text-anchor="end">2</text>
<text transform="translate(30.50 902.70) rotate(0.02) scale(0.61 1)" text-anchor="end">2.5</text>
<text transform="translate(33.60 896.50) rotate(0.02) scale(0.69 1)"><tspan font-size="10">×10</tspan><tspan font-size="8.2" dy="-5.3">5</tspan></text>
</g>
<text class="lb" transform="translate(346.7 1293.75) rotate(0.02)" text-anchor="middle">Number of days</text>
<text class="lb" transform="translate(10.60 1072.70) rotate(-90.02)" text-anchor="middle">Number of positive cases</text>
<text class="cap" transform="translate(312.3 1323.70) rotate(0.02)">(c)</text>
<path d="M33.20 1242.04L33.79 1244.54L39.93 1244.54L45.37 1225.42L46.31 1218.26L46.67 1225.42L51.15 1245.34L51.63 1241.76L51.98 1245.34L62.73 1245.34L68.64 1243.26L73.36 1245.19L75.37 1245.34L75.72 1227.14L76.08 1245.62L80.45 1245.91L92.26 1246.63L97.93 1225.42L104.31 1187.02L105.37 1178.14L105.73 1187.02L110.21 1186.31L110.69 1180.86L111.04 1183.73L134.49 1098.62L135.02 1082.43L135.49 1096.04L152.38 1041.02L152.74 1036.72L152.97 1041.88L157.46 1064.66L158.53 1041.88L158.76 1038.44L159.00 1037.58L163.13 995.03L163.78 980.27L164.14 996.03L164.61 956.77L165.02 991.73L167.68 1057.64L169.39 1109.51L170.40 1092.17L170.69 1112.09L175.24 1128.71L175.65 1126.42L176.01 1130.71L180.85 1147.91L181.56 1143.61L181.91 1149.34L187.29 1156.79L187.88 1153.64L188.23 1157.94L193.67 1190.03L194.14 1098.48L194.61 1192.61L195.32 1189.46L195.62 1195.19L199.28 1207.94L199.75 1204.50L200.10 1209.52L205.12 1231.01L205.66 1226.71L206.01 1233.16L210.79 1250.84L211.09 1247.49L211.86 1253.40L216.64 1253.40L222.55 1213.01L223.55 1199.77L223.96 1213.01L228.39 1253.93L229.40 1246.24L229.87 1253.93L239.91 1253.36L241.39 1250.35L241.98 1252.50L246.82 1247.49L247.29 1245.62L247.71 1248.20L252.02 1251.93L253.20 1214.82L253.79 1251.93L255.56 1248.20L256.45 1251.07L258.81 1249.35L259.99 1251.07L264.72 1248.92L265.90 1251.07L269.44 1250.07L271.21 1253.36L275.35 1253.36L281.84 1242.47L282.61 1239.09L283.02 1242.47L288.22 1252.64L293.06 1252.64L304.88 1250.35L309.60 1251.50L311.49 1251.64L311.96 1242.23L312.44 1251.64L328.50 1250.93L334.17 1248.63L340.61 1233.30L341.61 1230.44L342.08 1234.31L346.99 1244.05L364.11 1235.08L370.43 1233.88L371.26 1223.06L371.73 1233.88L388.39 1227.43L388.86 1225.99L389.33 1227.71L394.23 1229.43L399.90 1213.39L400.67 1210.28L401.14 1214.53L405.75 1233.02L407.64 1233.88L412.37 1235.16L424.18 1236.31L424.65 1235.02L425.12 1236.74L430.02 1239.46L430.56 1224.85L431.09 1240.18L440.71 1242.47L447.15 1244.62L447.92 1226.14L448.45 1245.34L451.99 1246.77L453.65 1193.26L456.13 1124.70L458.25 1062.37L458.73 1060.51L459.14 1082.00L459.67 1008.50L460.32 1084.86L462.39 1166.25L464.34 1228.57L465.11 1251.36L465.70 1214.02L466.29 1251.36L467.00 1247.49L467.65 1250.35L470.95 1249.64L471.54 1241.04L472.13 1249.35L475.97 1248.49L477.57 1233.73L478.04 1241.04L482.53 1227.57L483.36 1216.11L483.95 1228.57L488.38 1245.19L488.79 1246.05L489.38 1077.99L490.09 1247.20L491.03 1243.90L491.68 1226.48L492.21 1246.20L494.75 1246.77L495.40 1231.73L495.88 1247.20L500.36 1246.48L501.25 1234.73L501.84 1248.20L505.68 1250.35L510.17 1251.79L517.43 1234.73L518.85 1227.93L519.56 1234.73L524.05 1251.36L524.70 1248.20L525.17 1251.79L530.19 1250.71L538.16 1249.64L542.30 1247.92L546.14 1249.64L548.03 1250.25L548.62 1233.59L549.15 1249.92L550.27 1248.49L551.75 1249.92L553.52 1248.92L555.88 1249.92L560.02 1248.92L561.79 1249.92L564.74 1249.92L570.82 1250.71L576.97 1236.88L577.73 1233.07L578.21 1237.60L583.11 1251.50L583.64 1249.92L586.59 1253.02L590.73 1253.36L601.53 1251.93L604.01 1253.79L606.91 1253.93L607.50 1241.18L608.03 1254.08L609.63 1253.07L611.99 1254.94L617.89 1255.65L623.80 1256.51" fill="none" stroke="#0072BD" stroke-width="0.9" stroke-linejoin="round"/>
</g>
</svg>
</body>
</html>
